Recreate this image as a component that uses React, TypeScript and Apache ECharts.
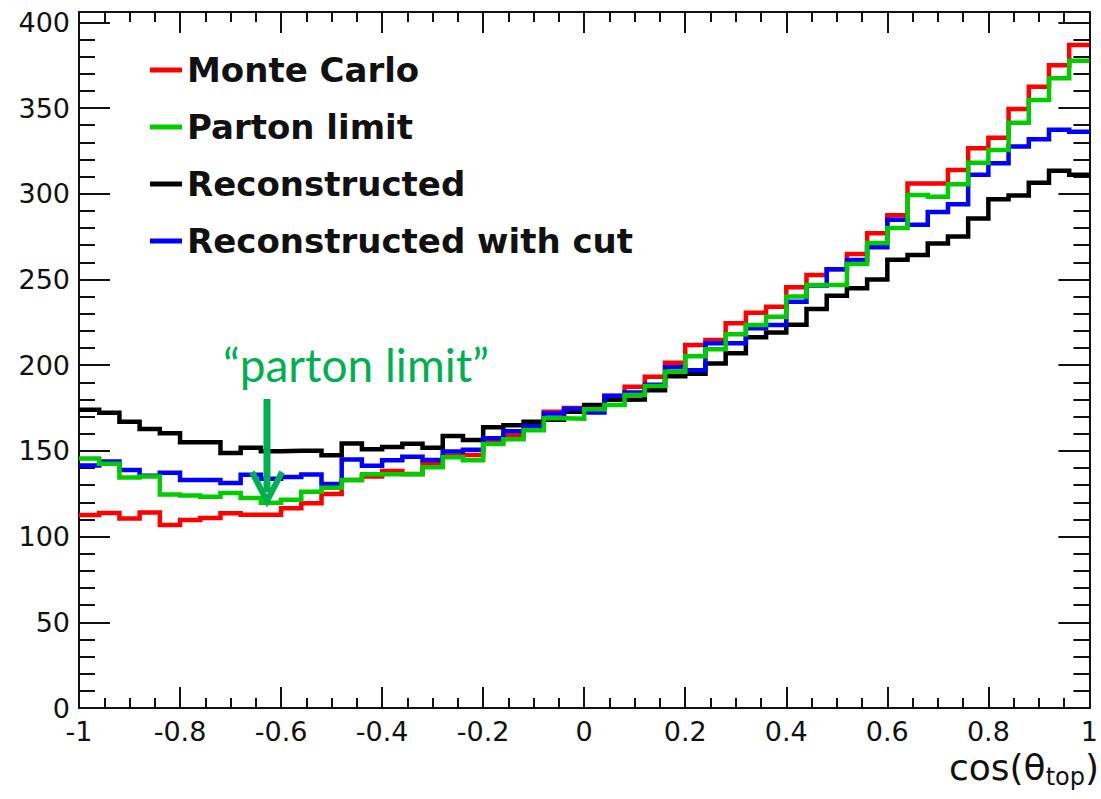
import React, { useEffect, useRef } from "react";
import * as echarts from "echarts";

// Histogram binning: 50 bins from -1 to 1
const BIN_LOW = -1;
const BIN_WIDTH = 0.04;
const N_BINS = 50;

const seriesNames = ["Monte Carlo", "Parton limit", "Reconstructed", "Reconstructed with cut"];
const seriesColors = ["#ff0000", "#00cc00", "#000000", "#0000ff"];

const monteCarlo = [
  112.6, 113.8, 110.6, 114, 106.7, 109.7, 110.8, 113.6, 112.8, 112.8,
  116.5, 119.4, 124.8, 133, 135, 138.3, 136.5, 142.5, 147, 147.6,
  156, 158.9, 163, 172.8, 175, 176, 182, 187.4, 193.3, 201.4,
  211.7, 214.7, 224.4, 230.6, 234, 245.4, 252.6, 256, 264.8, 277,
  287.4, 306, 306, 313.8, 326.5, 332.7, 349.4, 362.4, 375, 386.8,
];
const partonLimit = [
  145.6, 142.5, 134.5, 135, 124.5, 124, 123.3, 125.4, 122.5, 119.8,
  121.5, 126.2, 128.5, 133, 136.4, 136.4, 136.4, 140.5, 146.3, 144.5,
  154, 156.8, 162, 169, 168.7, 174.3, 176.8, 182.6, 187.8, 196.2,
  205.2, 209.2, 218, 223.4, 228.3, 240, 246.7, 246.7, 259, 271.3,
  280, 299.2, 298.3, 305.5, 318, 325.5, 341.4, 354.7, 367.3, 377.6,
];
const reconstructed = [
  174, 172.3, 167, 162.8, 160.3, 155, 155, 148.8, 151.8, 149.8,
  150, 150, 147.4, 154.3, 150.9, 152.2, 154.2, 151.8, 158.7, 156.3,
  163.8, 165, 167, 168.2, 172.8, 176.8, 179.8, 180, 185.3, 193.5,
  195, 201, 207, 216.3, 219, 223.6, 232.8, 240.5, 244.8, 250,
  261.5, 264.2, 271, 275, 285.6, 296.7, 299, 306.4, 313.4, 311,
];
const reconstructedCut = [
  141.4, 143.8, 138.8, 135.5, 137.3, 133, 133, 131.2, 136, 133.7,
  134.8, 136.2, 130.6, 145, 141.3, 144.5, 146.6, 144.7, 149.6, 150.7,
  157.4, 161.5, 164.3, 171.8, 174.5, 172.4, 182.2, 184, 188.5, 198.8,
  197, 212.7, 212.7, 221.5, 223.4, 237, 246.5, 256, 261.3, 268.7,
  284.8, 281.9, 289.3, 293.8, 311, 317.8, 327.6, 331.7, 337.3, 336.2,
];

const yTickValues = [0, 50, 100, 150, 200, 250, 300, 350, 400];
const Y_MAX = 406;

function toStepData(values: number[]) {
  const pts: [number, number][] = [];
  for (let i = 0; i < N_BINS; i++) {
    const edge = Math.round((BIN_LOW + i * BIN_WIDTH) * 1000) / 1000;
    pts.push([edge, values[i]]);
  }
  pts.push([Math.round((BIN_LOW + N_BINS * BIN_WIDTH) * 1000) / 1000, values[N_BINS - 1]]);
  return pts;
}

const FRAME = "#111";
const ANNOT = "#00b050";

export default function App() {
  const ref = useRef<HTMLDivElement>(null);

  useEffect(() => {
    document.body.style.margin = "0";
    if (!ref.current) return;
    const chart = echarts.init(ref.current, undefined, { renderer: "svg" });

    const xBase = {
      type: "value" as const,
      min: -1,
      max: 1,
      interval: 0.2,
      splitLine: { show: false },
      axisLine: { show: true, onZero: false, lineStyle: { color: FRAME, width: 2 } },
      axisTick: { show: true, inside: true, length: 21, lineStyle: { color: FRAME, width: 2 } },
      minorTick: { show: true, splitNumber: 4, length: 10, lineStyle: { color: FRAME, width: 2 } },
    };
    const yMajor = {
      type: "value" as const,
      min: 0,
      max: Y_MAX,
      interval: 50,
      splitLine: { show: false },
      axisLine: { show: true, onZero: false, lineStyle: { color: FRAME, width: 2 } },
      axisTick: { show: true, inside: true, length: 31, lineStyle: { color: FRAME, width: 2 } },
    };
    const yMinor = {
      type: "value" as const,
      min: 0,
      max: Y_MAX,
      interval: 10,
      splitLine: { show: false },
      axisLine: { show: false, onZero: false },
      axisLabel: { show: false },
      axisTick: { show: true, inside: true, length: 16, lineStyle: { color: FRAME, width: 2 } },
    };

    const dataSets = [monteCarlo, partonLimit, reconstructed, reconstructedCut];
    // drawing order: red, black, blue, green on top
    const drawOrder = [0, 2, 3, 1];

    chart.setOption({
      animation: false,
      backgroundColor: "#ffffff",
      grid: { left: 79, right: 9, top: 12, bottom: 91, containLabel: false },
      legend: {
        orient: "vertical",
        left: 145,
        top: 45,
        icon: "rect",
        itemWidth: 32,
        itemHeight: 5,
        itemGap: 17,
        data: seriesNames,
        textStyle: {
          fontSize: 34,
          fontWeight: "bold",
          fontFamily: "DejaVu Sans",
          color: "#111",
          lineHeight: 40,
        },
      },
      xAxis: [
        {
          ...xBase,
          position: "bottom",
          axisLabel: {
            show: true,
            fontSize: 27,
            fontFamily: "DejaVu Sans",
            color: "#111",
            margin: 10,
            showMinLabel: true,
            showMaxLabel: true,
            formatter: (v: number) => String(Math.round(v * 10) / 10),
          },
        },
        { ...xBase, position: "top", axisLabel: { show: false } },
      ],
      yAxis: [
        {
          ...yMajor,
          position: "left",
          axisLabel: {
            show: true,
            fontSize: 27,
            fontFamily: "DejaVu Sans",
            color: "#111",
            margin: 9,
            showMaxLabel: false,
            formatter: (v: number) => (yTickValues.includes(v) ? String(v) : ""),
          },
        },
        { ...yMinor, position: "left" },
        { ...yMajor, position: "right", axisLabel: { show: false } },
        { ...yMinor, position: "right" },
      ],
      series: drawOrder.map((idx) => ({
        name: seriesNames[idx],
        type: "line",
        step: "end",
        xAxisIndex: 0,
        yAxisIndex: 0,
        symbol: "none",
        showSymbol: false,
        data: toStepData(dataSets[idx]),
        lineStyle: { color: seriesColors[idx], width: 4.5, join: "miter" },
        itemStyle: { color: seriesColors[idx] },
        emphasis: { disabled: true },
      })),
      graphic: [
        {
          type: "text",
          x: 356,
          y: 364,
          z: 100,
          style: {
            text: "\u201Cparton limit\u201D",
            fill: ANNOT,
            fontSize: 46,
            fontFamily: "Lato",
            align: "center",
            verticalAlign: "middle",
          },
        },
        {
          type: "line",
          z: 100,
          shape: { x1: 267, y1: 399, x2: 267, y2: 492 },
          style: { stroke: ANNOT, lineWidth: 7 },
        },
        {
          type: "polyline",
          z: 100,
          shape: { points: [[252, 472], [267, 501], [282, 472]] },
          style: { stroke: ANNOT, lineWidth: 6, lineJoin: "miter" },
        },
        {
          type: "text",
          x: 1099,
          y: 749,
          z: 100,
          style: {
            text: "{m|cos(\u03B8}{s|top}{m|)}",
            align: "right",
            verticalAlign: "top",
            fill: "#111",
            rich: {
              m: { fontSize: 36, fontFamily: "DejaVu Sans", fill: "#111", verticalAlign: "top", lineHeight: 40 },
              s: {
                fontSize: 24,
                fontFamily: "DejaVu Sans",
                fill: "#111",
                verticalAlign: "bottom",
                lineHeight: 27,
                padding: [20, 0, 0, 0],
              },
            },
          },
        },
      ],
    });

    return () => {
      chart.dispose();
    };
  }, []);

  return <div ref={ref} style={{ width: 1101, height: 799 }} />;
}
